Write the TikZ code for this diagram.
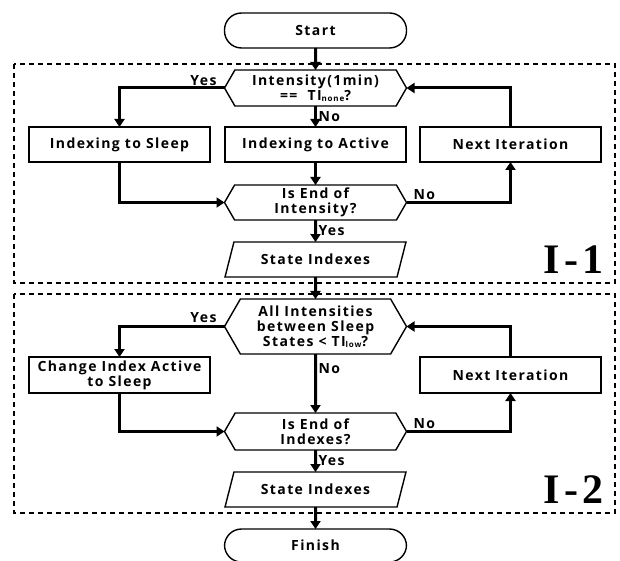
\documentclass[tikz,border=0pt]{standalone}
\usepackage{fontspec}
\setmainfont{Open Sans}[LetterSpace=10]
\newfontfamily\partfont{Liberation Serif}[LetterSpace=10]
\usetikzlibrary{shapes.geometric, shapes.symbols, arrows.meta, positioning}

\newcommand{\lowsub}[1]{\raisebox{-1pt}{\fontsize{8}{8}\selectfont #1}}

\begin{document}
\begin{tikzpicture}[
    x=1pt, y=-1pt,
    node distance=22pt and 15pt,
    every node/.style={font=\bfseries\fontsize{14}{15}\selectfont, align=center, outer sep=0pt},
    terminal/.style={rectangle, draw, line width=1.4pt, rounded corners=17pt, minimum width=182pt, minimum height=35pt},
    process/.style={rectangle, draw, line width=1.4pt, minimum width=181pt, minimum height=35pt, inner sep=2pt},
    decision/.style={signal, signal to=east and west, signal pointer angle=120, draw, line width=1.4pt, minimum width=182pt, minimum height=36pt, inner sep=1pt},
    inout/.style={trapezium, trapezium left angle=70, trapezium right angle=110, trapezium stretches=true, draw, line width=1.4pt, minimum width=181pt, minimum height=35pt},
    arrow/.style={-{Triangle[width=10pt, length=8pt]}, line width=3pt},
    stagebox/.style={dash pattern=on 5pt off 4pt, line width=1.2pt},
    branch/.style={inner sep=1pt},
    stagetag/.style={anchor=base east, font=\partfont\bfseries\fontsize{42}{42}\selectfont}
]
\useasboundingbox (0,0) rectangle (620,561);

% Dashed stage frames
\draw[stagebox] (14,64) rectangle (615,283);
\draw[stagebox] (14,294) rectangle (615,513);
\node (tag1) [stagetag] at (607,273) {I-1};
\node (tag2) [stagetag] at (607,503) {I-2};

% Start
\node (start) [terminal] at (315.5,30.5) {Start};

% Stage I-1
\node (dec1) [decision, below=of start] {Intensity(1min)\\==~~TI\lowsub{none}?};
\node (active) [process, below=21pt of dec1] {Indexing to Active};
\node (sleep1) [process, left=of active] {Indexing to Sleep};
\node (next1) [process, right=14pt of active] {Next Iteration};
\node (dec2) [decision, below=23pt of active, minimum height=35pt] {Is End of\\Intensity?};
\node (state1) [inout, below=of dec2] {State Indexes};

% Stage I-2
\node (dec3) [decision, below=of state1, minimum height=55pt] {All Intensities\\between Sleep\\States < TI\lowsub{low}?};
\node (dec4) [decision, below=59pt of dec3, minimum height=37pt] {Is End of\\Indexes?};
\node (sleep2) [process, minimum height=36pt] at (sleep1 |- 0,375) {Change Index Active\\to Sleep};
\node (next2) [process, minimum height=36pt] at (next1 |- sleep2) {Next Iteration};
\node (state2) [inout, below=of dec4] {State Indexes};

% Finish
\node (finish) [terminal, minimum height=33pt] [below=of state2] {Finish};

% Arrows
\draw [arrow] (start) -- (dec1);
\draw [arrow] (dec1.west) -| (sleep1.north)
    node[branch, pos=0, anchor=base east, xshift=-7pt, yshift=2pt] {Yes};
\draw [arrow] (dec1) -- (active) node[branch, midway, right, xshift=2pt] {No};
\draw [arrow] (next1.north) |- (dec1.east);
\draw [arrow] (active) -- (dec2);
\draw [arrow] (sleep1.south) |- (dec2.west);
\draw [arrow] (dec2.east) -| (next1.south)
    node[branch, pos=0, anchor=base west, xshift=6pt, yshift=3pt] {No};
\draw [arrow] (dec2) -- (state1) node[branch, midway, right, xshift=2pt] {Yes};
\draw [arrow] (state1) -- (dec3);
\draw [arrow] (dec3.west) -| (sleep2.north)
    node[branch, pos=0, anchor=base east, xshift=-7pt, yshift=4pt] {Yes};
\draw [arrow] (dec3) -- (dec4) node[branch, pos=0.25, right, xshift=2pt] {No};
\draw [arrow] (next2.north) |- (dec3.east);
\draw [arrow] (sleep2.south) |- (dec4.west);
\draw [arrow] (dec4.east) -| (next2.south)
    node[branch, pos=0, anchor=base west, xshift=6pt, yshift=3pt] {No};
\draw [arrow] (dec4) -- (state2) node[branch, midway, right, xshift=2pt] {Yes};
\draw [arrow] (state2) -- (finish);

\end{tikzpicture}
\end{document}
